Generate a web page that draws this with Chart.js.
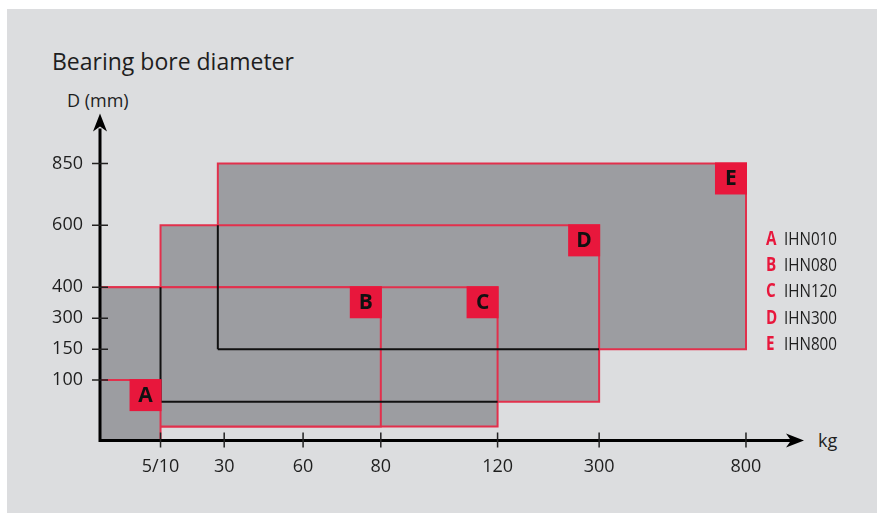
<!DOCTYPE html>
<html lang="en">
<head>
    <meta charset="UTF-8">
    <title>Bearing bore diameter</title>
    <script src="https://cdn.jsdelivr.net/npm/chart.js"></script>
    <style>
        body {
            margin: 0;
            width: 877px;
            height: 513px;
            position: relative;
            overflow: hidden;
            background: #ffffff;
            font-family: "Open Sans", sans-serif;
            color: #1e1e1e;
        }
        .panel { position: absolute; left: 7px; top: 9px; right: 0; bottom: 0; background: #dcdddf; }
        canvas { position: absolute; left: 0; top: 0; }
        .txt { position: absolute; white-space: nowrap; }
        #title { left: 52px; top: 50px; font-size: 23px; line-height: 23px; font-weight: 500; }
        #yTitle { left: 67px; top: 91px; font-size: 18px; line-height: 18px; }
        #xTitle { left: 818px; top: 431px; font-size: 18px; line-height: 18px; }
        .row { position: absolute; left: 766px; font-size: 19px; line-height: 19px; white-space: nowrap;
               transform: scaleX(0.8); transform-origin: left center; }
        .row b { display: inline-block; width: 22.5px; color: #e8173c; }
    </style>
</head>
<body>
    <div class="panel"></div>
    <div class="txt" id="title">Bearing bore diameter</div>
    <div class="txt" id="yTitle">D (mm)</div>
    <div class="txt" id="xTitle">kg</div>
    <canvas id="boreChart" width="877" height="513"></canvas>
    <div id="legend"></div>
    <script>
        // heater models, weight (kg) and bore (mm) ranges
        const codes = ['A', 'B', 'C', 'D', 'E'];
        const models = ['IHN010', 'IHN080', 'IHN120', 'IHN300', 'IHN800'];
        const weightMin = [0, 0, 0, 10, 28];
        const weightMax = [10, 80, 120, 300, 800];
        const boreMin = [0, 25, 25, 65, 150];
        const boreMax = [100, 400, 400, 600, 850];

        const xTickValues = [10, 30, 60, 80, 120, 300, 800];
        const xTickLabels = ['5/10', '30', '60', '80', '120', '300', '800'];
        const yTickValues = [100, 150, 300, 400, 600, 850];
        const yTickLabels = ['100', '150', '300', '400', '600', '850'];

        // the axes are schematic: each tick sits on its own slot, values in between are interpolated
        const xTickSlot = [1.55, 3.18, 5.2, 7.19, 10.18, 12.78, 16.54];
        const yTickSlot = [2, 3, 4, 5, 7, 9];
        const hiddenEdgesFor = ['D', 'E'];

        const RED = '#e2304c', BADGE = '#e8173c', GRAY = '#9c9da1';

        function toAxis(v, values, slots) {
            const vs = [0].concat(values), ss = [0].concat(slots);
            for (let i = 1; i < vs.length; i++) {
                if (v <= vs[i]) return ss[i - 1] + (v - vs[i - 1]) / (vs[i] - vs[i - 1]) * (ss[i] - ss[i - 1]);
            }
            return ss[ss.length - 1];
        }

        const rects = codes.map((c, i) => ({
            code: c,
            x0: toAxis(weightMin[i], xTickValues, xTickSlot),
            x1: toAxis(weightMax[i], xTickValues, xTickSlot),
            y0: toAxis(boreMin[i], yTickValues, yTickSlot),
            y1: toAxis(boreMax[i], yTickValues, yTickSlot)
        }));

        // parts of an edge that sit under the boxes drawn above it
        function covered(edge, above) {
            const parts = [];
            above.forEach(o => {
                const a = edge.vertical ? [o.x0, o.x1, o.y0, o.y1] : [o.y0, o.y1, o.x0, o.x1];
                if (edge.at > a[0] && edge.at < a[1]) {
                    const s = Math.max(edge.from, a[2]), e = Math.min(edge.to, a[3]);
                    if (e > s) parts.push([s, e]);
                }
            });
            parts.sort((p, q) => p[0] - q[0]);
            const merged = [];
            parts.forEach(p => {
                const last = merged[merged.length - 1];
                if (last && p[0] <= last[1]) last[1] = Math.max(last[1], p[1]);
                else merged.push(p.slice());
            });
            return merged;
        }

        const datasets = [];
        rects.forEach((r, i) => {
            datasets.push({
                data: [{ x: r.x0, y: r.y1 }, { x: r.x1, y: r.y1 }],
                borderWidth: 0, pointRadius: 0, backgroundColor: GRAY,
                fill: { value: r.y0 }, order: 2 * i + 2
            });
            datasets.push({
                data: [{ x: r.x0, y: r.y0 }, { x: r.x0, y: r.y1 }, { x: r.x1, y: r.y1 }, { x: r.x1, y: r.y0 }, { x: r.x0, y: r.y0 }],
                borderColor: RED, borderWidth: 2, pointRadius: 0, fill: false, order: 2 * i + 1
            });
            if (hiddenEdgesFor.includes(r.code)) {
                const above = rects.slice(0, i);
                const edges = [
                    { vertical: true, at: r.x0, from: r.y0, to: r.y1 },
                    { vertical: false, at: r.y0, from: r.x0, to: r.x1 }
                ];
                edges.forEach(e => covered(e, above).forEach(p => {
                    const pts = e.vertical
                        ? [{ x: e.at, y: p[0] }, { x: e.at, y: p[1] }]
                        : [{ x: p[0], y: e.at }, { x: p[1], y: e.at }];
                    datasets.push({ data: pts, borderColor: '#111111', borderWidth: 2, pointRadius: 0, fill: false, order: 0 });
                }));
            }
        });

        const badges = {
            id: 'badges',
            afterDatasetsDraw(chart) {
                const ctx = chart.ctx, xs = chart.scales.x, ys = chart.scales.y;
                ctx.save();
                rects.forEach(r => {
                    const px = xs.getPixelForValue(r.x1), py = ys.getPixelForValue(r.y1);
                    ctx.fillStyle = BADGE;
                    ctx.fillRect(px - 31, py - 1, 32, 32);
                    ctx.fillStyle = '#111111';
                    ctx.font = 'bold 21px "Open Sans"';
                    ctx.textAlign = 'center';
                    ctx.textBaseline = 'middle';
                    ctx.fillText(r.code, px - 15, py + 16);
                });
                ctx.restore();
            }
        };

        const axesArrows = {
            id: 'axesArrows',
            afterDatasetsDraw(chart) {
                const ctx = chart.ctx, a = chart.chartArea, xs = chart.scales.x, ys = chart.scales.y;
                const base = a.bottom - 1.5;
                ctx.save();
                ctx.strokeStyle = '#000000';
                ctx.fillStyle = '#000000';
                ctx.lineWidth = 3;
                ctx.beginPath();
                ctx.moveTo(a.left, a.top + 10);
                ctx.lineTo(a.left, base);
                ctx.lineTo(a.right - 10, base);
                ctx.stroke();
                // arrow heads
                ctx.beginPath();
                ctx.moveTo(a.left, a.top - 5);
                ctx.lineTo(a.left - 7, a.top + 13);
                ctx.lineTo(a.left, a.top + 8);
                ctx.lineTo(a.left + 7, a.top + 13);
                ctx.closePath();
                ctx.fill();
                ctx.beginPath();
                ctx.moveTo(a.right + 1, base);
                ctx.lineTo(a.right - 17, base - 7);
                ctx.lineTo(a.right - 12, base);
                ctx.lineTo(a.right - 17, base + 7);
                ctx.closePath();
                ctx.fill();
                // tick marks crossing the axes
                ctx.lineWidth = 1.5;
                ctx.strokeStyle = '#222222';
                ctx.beginPath();
                xs.ticks.forEach(t => {
                    const px = xs.getPixelForValue(t.value);
                    ctx.moveTo(px, base - 8);
                    ctx.lineTo(px, base + 7);
                });
                ys.ticks.forEach(t => {
                    const py = ys.getPixelForValue(t.value);
                    ctx.moveTo(a.left - 8, py);
                    ctx.lineTo(a.left + 8, py);
                });
                ctx.stroke();
                ctx.restore();
            }
        };

        const tickFont = { family: '"Open Sans"', size: 18 };
        new Chart(document.getElementById('boreChart'), {
            type: 'line',
            data: { datasets: datasets },
            options: {
                responsive: false,
                animation: false,
                events: [],
                layout: { padding: { left: 0, right: 74, top: 118.6, bottom: 0 } },
                elements: { line: { tension: 0 } },
                scales: {
                    x: {
                        type: 'linear', min: 0, max: 18,
                        grid: { display: false, drawTicks: false },
                        border: { display: false },
                        afterBuildTicks: s => { s.ticks = xTickSlot.map(v => ({ value: v })); },
                        afterFit: s => { s.height = 71; },
                        ticks: { autoSkip: false, maxRotation: 0, padding: 14, color: '#1e1e1e', font: tickFont,
                                 callback: (v, i) => xTickLabels[i] }
                    },
                    y: {
                        type: 'linear', min: 0, max: 10.45,
                        grid: { display: false, drawTicks: false },
                        border: { display: false },
                        afterBuildTicks: s => { s.ticks = yTickSlot.map(v => ({ value: v })); },
                        afterFit: s => { s.width = 100; },
                        ticks: { autoSkip: false, padding: 17, color: '#1e1e1e', font: tickFont,
                                 callback: (v, i) => yTickLabels[i] }
                    }
                },
                plugins: { legend: { display: false }, tooltip: { enabled: false } }
            },
            plugins: [badges, axesArrows]
        });

        const legend = document.getElementById('legend');
        codes.forEach((c, i) => {
            const row = document.createElement('div');
            row.className = 'row';
            row.style.top = (229 + i * 26.2) + 'px';
            row.innerHTML = '<b>' + c + '</b>' + models[i];
            legend.appendChild(row);
        });
    </script>
</body>
</html>
